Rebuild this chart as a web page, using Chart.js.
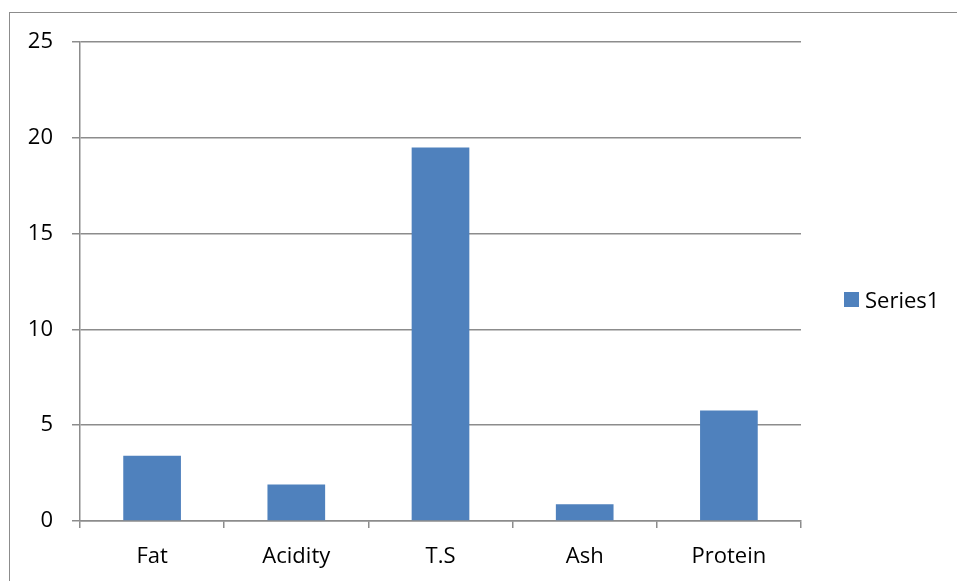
<!DOCTYPE html>
<html>
<head>
<meta charset="utf-8">
<script src="https://cdn.jsdelivr.net/npm/chart.js@4"></script>
<style>
  body { margin: 0; background: #fff; overflow: hidden; }
  #wrap { position: relative; width: 957px; height: 581px; }
  #frame { position: absolute; left: 9px; top: 12px; width: 1000px; height: 1000px;
           border: 1.5px solid #8c8c8c; box-sizing: border-box; }
  #legend { position: absolute; left: 844px; top: 284px; font: 22px "Open Sans", sans-serif;
            color: #000; display: flex; align-items: center; }
  #legend span.box { display: inline-block; width: 15px; height: 15px; background: #4F81BD; margin-right: 6px; }
</style>
</head>
<body>
<div id="wrap">
  <div id="frame"></div>
  <canvas id="chart" width="957" height="581"></canvas>
  <div id="legend"><span class="box"></span><span id="legendText"></span></div>
</div>
<script>
const categories = ['Fat', 'Acidity', 'T.S', 'Ash', 'Protein'];
const series1 = [3.4, 1.9, 19.5, 0.87, 5.77];
const seriesName = 'Series1';
const yTicks = [0, 5, 10, 15, 20, 25];

document.getElementById('legendText').textContent = seriesName;

const axisColor = '#8c8c8c';

const data = {
  labels: categories,
  datasets: [{
    label: seriesName,
    data: series1,
    backgroundColor: '#4F81BD',
    borderWidth: 0,
    barPercentage: 0.4,
    categoryPercentage: 1
  }]
};

const config = {
  type: 'bar',
  data: data,
  options: {
    responsive: false,
    animation: false,
    layout: { padding: { top: 42, right: 156, left: 0, bottom: 0 } },
    plugins: { legend: { display: false }, tooltip: { enabled: false } },
    scales: {
      x: {
        afterFit: s => { s.height = 60; },
        border: { color: axisColor, width: 1.5 },
        grid: { offset: true, drawOnChartArea: false, drawTicks: true, tickLength: 7, color: axisColor, lineWidth: 1.5 },
        ticks: { color: '#000', font: { family: 'Open Sans', size: 22 }, padding: 16 }
      },
      y: {
        min: 0,
        max: 25,
        afterFit: s => { s.width = 80; },
        afterBuildTicks: s => { s.ticks = yTicks.map(v => ({ value: v })); },
        border: { color: axisColor, width: 1.5 },
        grid: { color: axisColor, lineWidth: 1.5, tickLength: 8 },
        ticks: { color: '#000', font: { family: 'Open Sans', size: 22 }, padding: 19 }
      }
    }
  }
};

const chart = new Chart(document.getElementById('chart'), config);
</script>
</body>
</html>
